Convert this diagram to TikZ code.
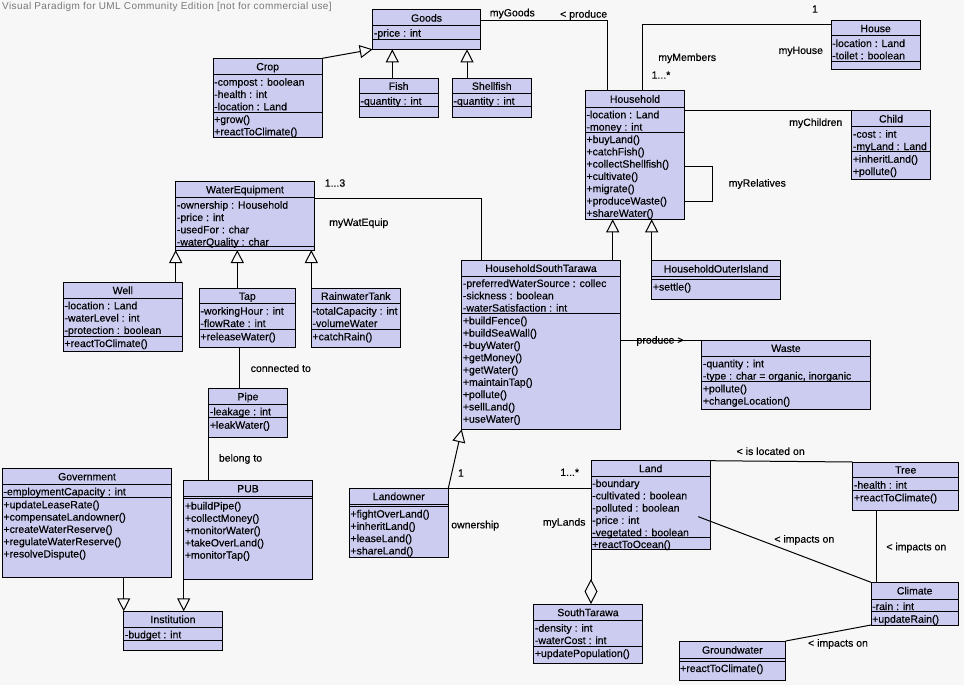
\documentclass[tikz,border=0pt]{standalone}
\usepackage{fontspec}
\setmainfont[FakeBold=0.3]{Liberation Sans}
\newfontfamily\titlefont[LetterSpace=4]{Liberation Sans}
\usetikzlibrary{arrows.meta,calc}
\definecolor{bgcol}{RGB}{247,247,247}
\definecolor{boxfill}{RGB}{204,204,240}
\definecolor{titlegray}{RGB}{120,120,120}
\tikzset{
 classbox/.style={draw=black, fill=boxfill, line width=1pt, inner sep=0pt, outer sep=0pt, rectangle},
 sepline/.style={draw=black, line width=1pt},
 titletext/.style={anchor=base, inner sep=0pt, font=\fontsize{10.5}{12}\selectfont},
 rowtext/.style={anchor=base west, inner sep=0pt, font=\fontsize{10.5}{12}\selectfont},
 conn/.style={draw=black, line width=1pt},
 gen/.style={conn, -{Triangle[open, length=13pt, width=13pt]}},
 agg/.style={conn, {Diamond[open, length=25pt, width=13pt]}-},
 lbl/.style={inner sep=0pt, font=\fontsize{10.5}{12}\selectfont, text height=7.5pt, text depth=2.2pt},
}
\newcommand\umlclass[8]{%
  \node[classbox, anchor=north west, minimum width={(#4)-(#2)}, minimum height={(#7)-(#3)}] (#1) at (#2,#3) {};
  \draw[sepline] (#2,#5) -- (#4,#5);
  \draw[sepline] (#2,#6) -- (#4,#6);
  \node[titletext] (#1-title) at ({((#2)+(#4))/2},{((#3)+(#5))/2+3.8}) {#8};
  \def\cl{#2}\def\chs{#5}\def\cas{#6}}
\newcommand\attrs[2]{%
  \foreach \rowtxt [count=\i] in {#2} {\node[rowtext] (#1-a\i) at ({\cl+1},{\chs+11+12.3*(\i-1)}) {\rowtxt};}}
\newcommand\meths[2]{%
  \foreach \rowtxt [count=\i] in {#2} {\node[rowtext] (#1-m\i) at ({\cl+1},{\cas+11+12.3*(\i-1)}) {\rowtxt};}}
\begin{document}
\begin{tikzpicture}[x=1pt,y=-1pt]
\fill[bgcol] (0,0) rectangle (964,685);
\useasboundingbox (0,0) rectangle (964,685);
\node[anchor=west, inner sep=0pt, text=titlegray, font=\titlefont\fontsize{10}{12}\selectfont] (wm) at (2,7) {Visual Paradigm for UML Community Edition [not for commercial use]};

% classes
\umlclass{goods}{372.7}{10}{480.3}{25.7}{39.7}{49.3}{Goods}
\attrs{goods}{-price : int}
\umlclass{crop}{213}{58.3}{322.3}{74.7}{112}{137}{Crop}
\attrs{crop}{-compost : boolean, -health : int, -location : Land}
\meths{crop}{+grow(), +reactToClimate()}
\umlclass{fish}{359.3}{78.3}{438}{93.7}{106.7}{117.3}{Fish}
\attrs{fish}{-quantity : int}
\umlclass{shellfish}{452.3}{78.3}{531.3}{93.7}{106.7}{117.3}{Shellfish}
\attrs{shellfish}{-quantity : int}
\umlclass{house}{831}{20.7}{920.3}{36}{61.3}{69.3}{House}
\attrs{house}{-location : Land, -toilet : boolean}
\umlclass{household}{585.3}{90.7}{684.7}{107.3}{132}{219.3}{Household}
\attrs{household}{-location : Land, -money : int}
\meths{household}{+buyLand(), +catchFish(), +collectShellfish(), +cultivate(), +migrate(), +produceWaste(), +shareWater()}
\umlclass{child}{851.7}{110.7}{930.3}{126.7}{151.7}{179.3}{Child}
\attrs{child}{-cost : int, -myLand : Land}
\meths{child}{+inheritLand(), +pollute()}
\umlclass{hoi}{651.7}{260.7}{780.3}{276.7}{279.5}{299}{HouseholdOuterIsland}
\meths{hoi}{+settle()}
\umlclass{hst}{461.7}{260.3}{620.3}{276}{313.3}{429.3}{HouseholdSouthTarawa}
\attrs{hst}{-preferredWaterSource : collec, -sickness : boolean, -waterSatisfaction : int}
\meths{hst}{+buildFence(), +buildSeaWall(), +buyWater(), +getMoney(), +getWater(), +maintainTap(), +pollute(), +sellLand(), +useWater()}
\umlclass{waste}{701.7}{340}{870.3}{356.3}{381.3}{409.3}{Waste}
\attrs{waste}{-quantity : int, {-type : char = organic, inorganic}}
\meths{waste}{+pollute(), +changeLocation()}
\umlclass{we}{175.7}{181.3}{314.3}{197.7}{246}{250}{WaterEquipment}
\attrs{we}{-ownership : Household, -price : int, -usedFor : char, -waterQuality : char}
\umlclass{well}{63.3}{282.3}{182.3}{298.3}{336}{351}{Well}
\attrs{well}{-location : Land, -waterLevel : int, -protection : boolean}
\meths{well}{+reactToClimate()}
\umlclass{tap}{199.3}{288.3}{295.3}{303.7}{329.3}{347.3}{Tap}
\attrs{tap}{-workingHour : int, -flowRate : int}
\meths{tap}{+releaseWater()}
\umlclass{rwt}{311.3}{288.3}{400.3}{303.7}{329.3}{347.3}{RainwaterTank}
\attrs{rwt}{-totalCapacity : int, -volumeWater}
\meths{rwt}{+catchRain()}
\umlclass{pipe}{208.7}{388.7}{287.3}{404.3}{417.7}{437}{Pipe}
\attrs{pipe}{-leakage : int}
\meths{pipe}{+leakWater()}
\umlclass{pub}{183.7}{480.7}{312.3}{496.3}{498.5}{579.3}{PUB}
\meths{pub}{+buildPipe(), +collectMoney(), +monitorWater(), +takeOverLand(), +monitorTap()}
\umlclass{gov}{2.3}{468.7}{171.7}{484.3}{497.3}{577}{Government}
\attrs{gov}{-employmentCapacity : int}
\meths{gov}{+updateLeaseRate(), +compensateLandowner(), +createWaterReserve(), +regulateWaterReserve(), +resolveDispute()}
\umlclass{inst}{123.7}{611.3}{222.3}{627.3}{640.3}{650}{Institution}
\attrs{inst}{-budget : int}
\umlclass{landowner}{349.3}{488.3}{448.3}{504.3}{506.5}{557.3}{Landowner}
\meths{landowner}{+fightOverLand(), +inheritLand(), +leaseLand(), +shareLand()}
\umlclass{land}{591}{460.7}{710.3}{476}{537}{549.3}{Land}
\attrs{land}{-boundary, -cultivated : boolean, -polluted : boolean, -price : int, -vegetated : boolean}
\meths{land}{+reactToOcean()}
\umlclass{st}{533.7}{604}{642.3}{620.7}{646}{663}{SouthTarawa}
\attrs{st}{-density : int, -waterCost : int}
\meths{st}{+updatePopulation()}
\umlclass{tree}{852.7}{462}{958.7}{477.7}{490.3}{510}{Tree}
\attrs{tree}{-health : int}
\meths{tree}{+reactToClimate()}
\umlclass{climate}{871}{582.3}{958.3}{599}{611.7}{625}{Climate}
\attrs{climate}{-rain : int}
\meths{climate}{+updateRain()}
\umlclass{gw}{679}{641}{785.7}{658.7}{661}{680}{Groundwater}
\meths{gw}{+reactToClimate()}

% connectors
\draw[gen] (crop.north east) -- (goods.south west);
\draw[gen] ([xshift=33pt]fish.north west) -- ([xshift=33pt]fish.north west |- goods.south);
\draw[gen] ([xshift=14.7pt]shellfish.north west) -- ([xshift=14.7pt]shellfish.north west |- goods.south);
\draw[conn] ([yshift=-10.3pt]goods.north east) -| ([xshift=22.4pt]household.north west);
\draw[conn] ([yshift=-3.6pt]house.north west) -| ([xshift=57.4pt]household.north west);
\draw[conn] (household.east |- child.north west) -- (child.north west);
\draw[conn] ([yshift=-75.6pt]household.north east) -- ++(28,0) |- ([yshift=-110.6pt]household.north east);
\draw[gen] ([xshift=151pt]hst.north west) -- ([xshift=151pt]hst.north west |- household.south);
\draw[gen] (hoi.north west) -- (hoi.north west |- household.south);
\draw[conn] ([yshift=-17pt]we.north east) -| ([xshift=20pt]hst.north west);
\draw[conn] (hst.east |- waste.north west) -- (waste.north west);
\draw[gen] (we.south west |- well.north) -- (we.south west);
\draw[gen] ([xshift=38pt]tap.north west) -- ([xshift=38pt]tap.north west |- we.south);
\draw[gen] (rwt.north west) -- (rwt.north west |- we.south);
\draw[conn] ([xshift=40pt]tap.south west) -- ([xshift=40pt]tap.south west |- pipe.north);
\draw[conn] (pipe.south west) -- (pipe.south west |- pub.north);
\draw[gen] (inst.north west |- gov.south) -- (inst.north west);
\draw[gen] (pub.south west) -- (pub.south west |- inst.north);
\draw[gen] (landowner.north east) -- (hst.south west);
\draw[conn] (landowner.north east) -- (landowner.north east -| land.west);
\draw[agg] (land.south west |- st.north) -- (land.south west);
\draw[conn] (land.north east) -- (tree.north west);
\draw[conn] ([xshift=24pt]tree.south west) -- ([xshift=24pt]tree.south west |- climate.north);
\coordinate (landimp) at ([xshift=-12pt,yshift=-56pt]land.north east);
\draw[conn] (landimp) -- (climate.north west);
\draw[conn] (gw.north east) -- (climate.south west);

% labels
\node[lbl] (l1) at (512.3,13.7) {myGoods};
\node[lbl] (l2) at (583.7,15) {< produce};
\node[lbl] (l3) at (815,10) {1};
\node[lbl] (l4) at (800.8,51.3) {myHouse};
\node[lbl] (l5) at (687.2,58.3) {myMembers};
\node[lbl] (l6) at (661,76) {1...*};
\node[lbl] (l7) at (815.8,123.3) {myChildren};
\node[lbl] (l8) at (757.3,184) {myRelatives};
\node[lbl] (l9) at (335,184) {1...3};
\node[lbl] (l10) at (358.8,223.3) {myWatEquip};
\node[lbl] (l11) at (660,341) {produce >};
\node[lbl] (l12) at (280.8,369.3) {connected to};
\node[lbl] (l13) at (240.5,459) {belong to};
\node[lbl] (l14) at (461,474) {1};
\node[lbl] (l15) at (569.7,473.3) {1...*};
\node[lbl] (l16) at (475.2,525.7) {ownership};
\node[lbl] (l17) at (564.2,523) {myLands};
\node[lbl] (l18) at (770.7,452.3) {< is located on};
\node[lbl] (l19) at (804.3,540) {< impacts on};
\node[lbl] (l20) at (916.3,547.7) {< impacts on};
\node[lbl] (l21) at (838,644) {< impacts on};
\end{tikzpicture}
\end{document}
